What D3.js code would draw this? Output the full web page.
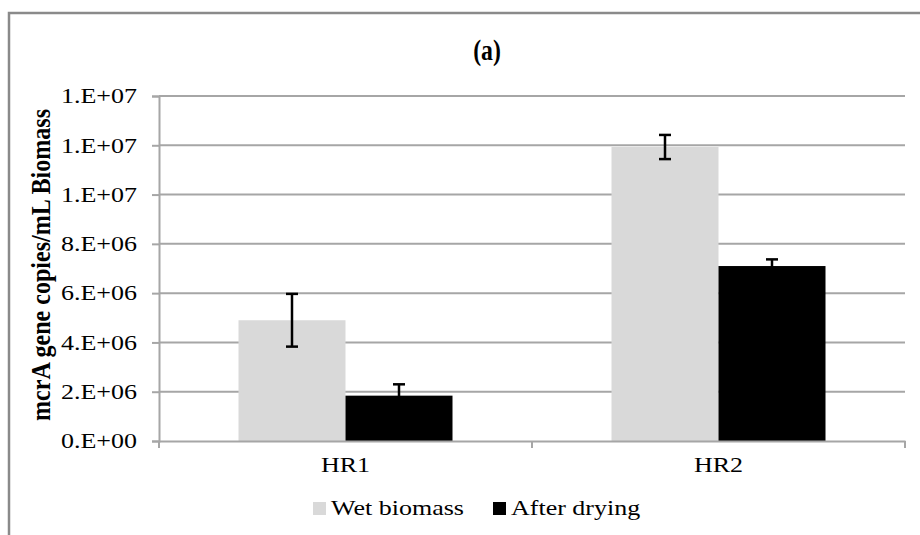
<!DOCTYPE html>
<html>
<head>
<meta charset="utf-8">
<script src="https://cdn.jsdelivr.net/npm/d3@7"></script>
<style>
html,body{margin:0;padding:0;background:#fff;}
svg{display:block;}
text{font-family:"Liberation Serif","Times New Roman",serif;fill:#000;}
</style>
</head>
<body>
<svg id="chart" width="920" height="535"></svg>
<script>
// ---- data ----
const categories = ["HR1", "HR2"];
const seriesNames = ["Wet biomass", "After drying"];
const wetValues = [4.9e6, 11.93e6];
const wetErrors = [1.07e6, 0.49e6];
const dryValues = [1.84e6, 7.1e6];
const dryErrors = [0.46e6, 0.27e6];
const yTickValues = [0, 2e6, 4e6, 6e6, 8e6, 10e6, 12e6, 14e6];
const yTickLabels = ["0.E+00", "2.E+06", "4.E+06", "6.E+06", "8.E+06", "1.E+07", "1.E+07", "1.E+07"];
const titleText = "(a)";
const yTitle = "mcrA gene copies/mL Biomass";

// ---- layout / style ----
const SX = 1.3;          // horizontal text stretch of the reference
const FS = 20;
const colors = ["#d9d9d9", "#000000"];
const gridColor = "#a6a6a6";
const pLeft = 159, pRight = 905, pTop = 96, pBottom = 441;

const svg = d3.select("#chart");

// outer frame (top + left edge visible)
svg.append("path")
  .attr("d", "M9,535 L9,13 L920,13")
  .attr("fill", "none").attr("stroke", "#8a8a8a").attr("stroke-width", 2.5);

const y = d3.scaleLinear().domain([0, 14e6]).range([pBottom, pTop]);
const x = d3.scaleBand().domain(categories).range([pLeft, pRight]).padding(0);
const xs = d3.scaleBand().domain(seriesNames).range([0, x.bandwidth()])
  .paddingInner(0).paddingOuter(0.743);

// gridlines
svg.append("g").selectAll("line").data(yTickValues.slice(1)).join("line")
  .attr("x1", pLeft).attr("x2", pRight)
  .attr("y1", d => y(d)).attr("y2", d => y(d))
  .attr("stroke", gridColor).attr("stroke-width", 2);

// bars
const rows = categories.map((c, i) => [
  {cat: c, s: seriesNames[0], v: wetValues[i], e: wetErrors[i], col: colors[0]},
  {cat: c, s: seriesNames[1], v: dryValues[i], e: dryErrors[i], col: colors[1]}
]).flat();

svg.append("g").selectAll("rect").data(rows).join("rect")
  .attr("x", d => x(d.cat) + xs(d.s))
  .attr("width", xs.bandwidth())
  .attr("y", d => y(d.v))
  .attr("height", d => y(0) - y(d.v))
  .attr("fill", d => d.col);

// error bars
const eg = svg.append("g").attr("stroke", "#000").attr("stroke-width", 2.5);
rows.forEach(d => {
  const cx = x(d.cat) + xs(d.s) + xs.bandwidth() / 2;
  eg.append("line").attr("x1", cx).attr("x2", cx).attr("y1", y(d.v + d.e)).attr("y2", y(d.v - d.e));
  eg.append("line").attr("x1", cx - 6).attr("x2", cx + 6).attr("y1", y(d.v + d.e)).attr("y2", y(d.v + d.e));
  eg.append("line").attr("x1", cx - 6).attr("x2", cx + 6).attr("y1", y(d.v - d.e)).attr("y2", y(d.v - d.e));
});

// y axis
const yAxis = d3.axisLeft(y).tickValues(yTickValues)
  .tickFormat((d, i) => yTickLabels[i]).tickSizeOuter(0).tickSize(7).tickPadding(15);
const yg = svg.append("g").attr("transform", `translate(${pLeft},0)`).call(yAxis);
yg.select(".domain").attr("stroke", gridColor).attr("stroke-width", 2);
yg.selectAll(".tick line").attr("stroke", gridColor).attr("stroke-width", 2);
yg.selectAll(".tick text")
  .attr("font-size", FS).attr("font-family", "Liberation Serif")
  .attr("x", -22 / SX).attr("dy", "0.34em")
  .attr("transform", `scale(${SX},1)`);

// x axis
const xg = svg.append("g").attr("transform", `translate(0,${pBottom})`)
  .call(d3.axisBottom(x).tickSize(0).tickSizeOuter(0));
xg.select(".domain").attr("stroke", gridColor).attr("stroke-width", 2);
xg.selectAll(".tick text").remove();
// category boundary ticks
const bounds = [pLeft, ...categories.slice(1).map(c => x(c)), pRight];
xg.append("g").selectAll("line").data(bounds).join("line")
  .attr("x1", d => d).attr("x2", d => d).attr("y1", 0).attr("y2", 7)
  .attr("stroke", gridColor).attr("stroke-width", 2);
// category labels
xg.append("g").selectAll("text").data(categories).join("text")
  .attr("transform", d => `translate(${x(d) + x.bandwidth() / 2},31) scale(${SX},1)`)
  .attr("text-anchor", "middle").attr("font-size", FS)
  .text(d => d);

// title
svg.append("text")
  .attr("transform", `translate(487,60) scale(0.95,1.15)`)
  .attr("text-anchor", "middle").attr("font-size", 25).attr("font-weight", "bold")
  .text(titleText);

// y title
svg.append("text")
  .attr("transform", `translate(50,265) scale(${SX},1) rotate(-90)`)
  .attr("text-anchor", "middle").attr("font-size", 21).attr("font-weight", "bold")
  .attr("textLength", 312).attr("lengthAdjust", "spacingAndGlyphs")
  .text(yTitle);

// legend
const legX = [313, 493];
const lg = svg.append("g");
seriesNames.forEach((s, i) => {
  lg.append("rect").attr("x", legX[i]).attr("y", 502).attr("width", 13).attr("height", 13).attr("fill", colors[i]);
  lg.append("text")
    .attr("transform", `translate(${legX[i] + 18},515) scale(${SX},1)`)
    .attr("font-size", FS).text(s);
});
</script>
</body>
</html>
